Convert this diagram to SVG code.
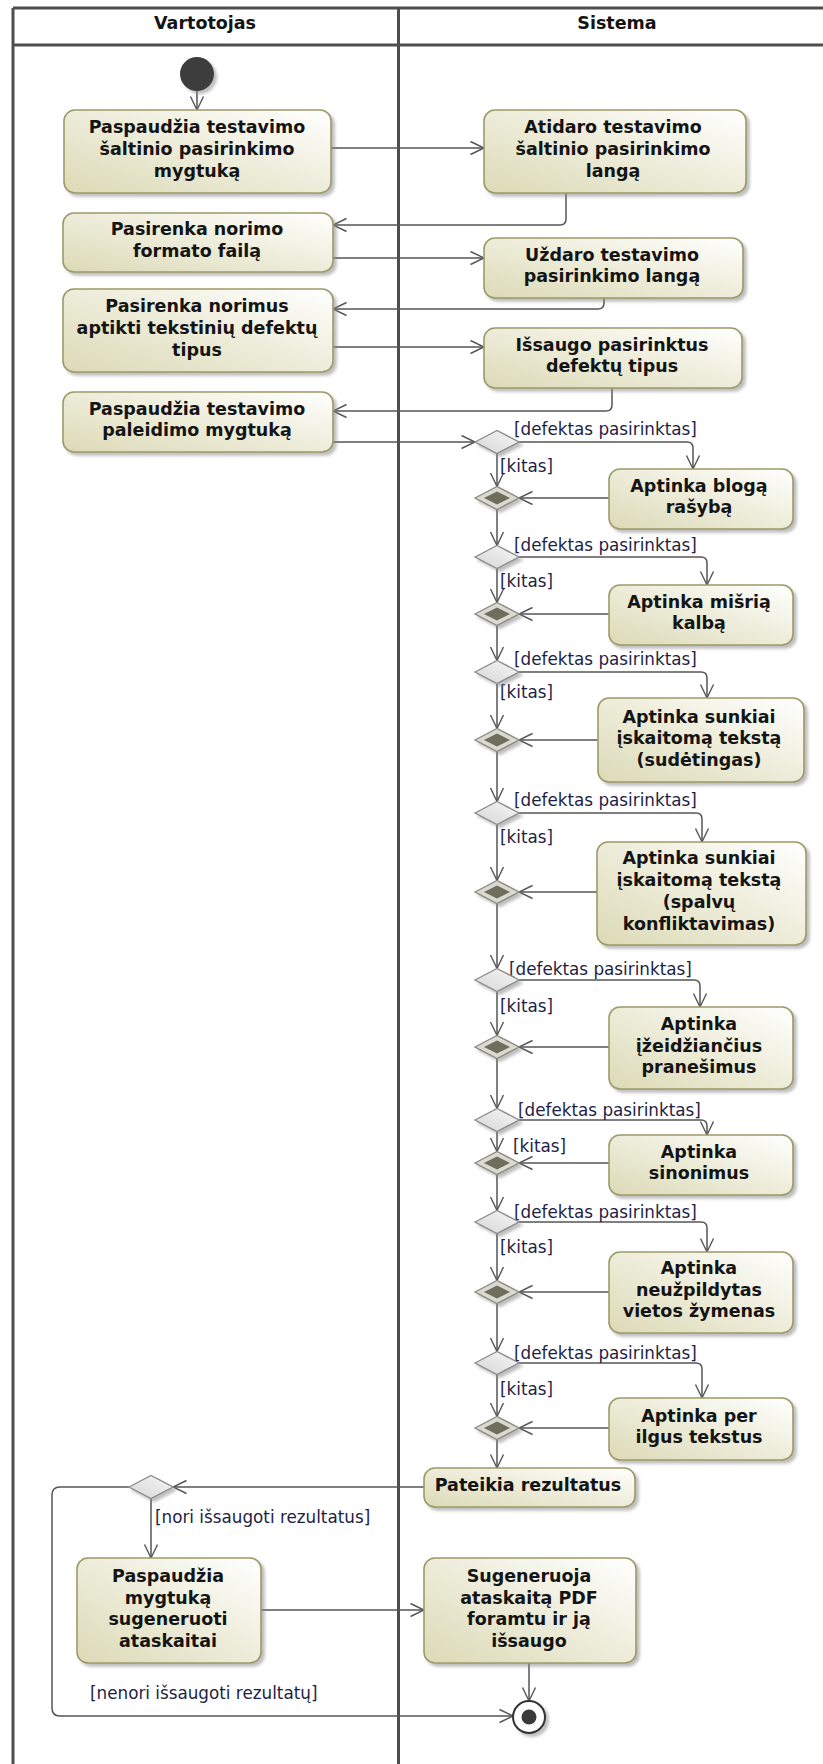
<svg xmlns="http://www.w3.org/2000/svg" width="823" height="1764" viewBox="0 0 823 1764">
  <defs>
    <linearGradient id="boxFill" x1="0" y1="1" x2="1" y2="0">
      <stop offset="0" stop-color="#dcdab6"/>
      <stop offset="0.55" stop-color="#efeedd"/>
      <stop offset="1" stop-color="#ffffff"/>
    </linearGradient>
    <linearGradient id="decFill" x1="0" y1="1" x2="1" y2="0">
      <stop offset="0" stop-color="#d6d6d6"/>
      <stop offset="1" stop-color="#f6f6f6"/>
    </linearGradient>
    <filter id="sh" x="-20%" y="-20%" width="150%" height="150%">
      <feDropShadow dx="3" dy="3" stdDeviation="1.5" flood-color="#888" flood-opacity="0.55"/>
    </filter>
    <marker id="ah" markerUnits="userSpaceOnUse" markerWidth="16" markerHeight="16" viewBox="0 0 16 16" refX="14.5" refY="8" orient="auto">
      <path d="M1,1.5 L14.5,8 L1,14.5" fill="none" stroke="#555" stroke-width="1.4"/>
    </marker>
    <style>
      .lane { stroke: #4e4e4e; stroke-width: 3; fill: none; }
      .box { fill: url(#boxFill); stroke: #9c9b68; stroke-width: 1.6; filter: url(#sh); }
      .t { font-family: "DejaVu Sans", Verdana, sans-serif; font-size: 17.5px; font-weight: bold; fill: #141414; text-anchor: middle; }
      .hd { font-family: "DejaVu Sans", Verdana, sans-serif; font-size: 17.5px; font-weight: bold; fill: #141414; text-anchor: middle; }
      .g { font-family: "DejaVu Sans", Verdana, sans-serif; font-size: 16.8px; fill: #1e1e46; }
      .c { fill: none; stroke: #555; stroke-width: 1.5; marker-end: url(#ah); }
      .dec { fill: url(#decFill); stroke: #8c8c8c; stroke-width: 1.4; filter: url(#sh); }
      .mrg { fill: #dadad2; stroke: #8a8a80; stroke-width: 1.4; filter: url(#sh); }
      .mrgIn { fill: #6d6e5c; }
    </style>
  </defs>

  <rect x="0" y="0" width="823" height="1764" fill="#ffffff"/>

  <!-- swimlane frame -->
  <g id="lanes">
    <line class="lane" x1="13" y1="8" x2="823" y2="8"/>
    <line class="lane" x1="13" y1="45" x2="823" y2="45"/>
    <line class="lane" x1="13" y1="8" x2="13" y2="1764"/>
    <line class="lane" x1="398.5" y1="8" x2="398.5" y2="1764"/>
    <text class="hd" x="205" y="29">Vartotojas</text>
    <text class="hd" x="617" y="29">Sistema</text>
  </g>

  <!-- control flows -->
  <g id="connectors">
    <path class="c" d="M197,91 V110"/>
    <path class="c" d="M331,148 H484"/>
    <path class="c" d="M566,193 V219 Q566,225 560,225 H333"/>
    <path class="c" d="M333,258 H484"/>
    <path class="c" d="M604,298 V303 Q604,309 598,309 H333"/>
    <path class="c" d="M333,347 H484"/>
    <path class="c" d="M612,388 V405 Q612,411 606,411 H333"/>
    <path class="c" d="M333,442 H475"/>

    <path class="c" d="M519,442 H687 Q693,442 693,448 V469"/>
    <path class="c" d="M497,453.5 V486.5"/>
    <path class="c" d="M609,498 H519"/>
    <path class="c" d="M497,509.5 V545.5"/>

    <path class="c" d="M519,557 H701 Q707,557 707,563 V585"/>
    <path class="c" d="M497,568.5 V602.5"/>
    <path class="c" d="M609,614 H519"/>
    <path class="c" d="M497,625.5 V660.5"/>

    <path class="c" d="M519,672 H701 Q707,672 707,678 V698"/>
    <path class="c" d="M497,683.5 V728.5"/>
    <path class="c" d="M598,740 H519"/>
    <path class="c" d="M497,751.5 V801.5"/>

    <path class="c" d="M519,813 H696 Q702,813 702,819 V842"/>
    <path class="c" d="M497,824.5 V880.5"/>
    <path class="c" d="M597,892 H519"/>
    <path class="c" d="M497,903.5 V968.5"/>

    <path class="c" d="M519,980 H694 Q700,980 700,986 V1007"/>
    <path class="c" d="M497,991.5 V1035.5"/>
    <path class="c" d="M609,1047 H519"/>
    <path class="c" d="M497,1058.5 V1108.5"/>

    <path class="c" d="M519,1120 H701 Q707,1120 707,1126 V1135"/>
    <path class="c" d="M497,1131.5 V1151.5"/>
    <path class="c" d="M609,1163 H519"/>
    <path class="c" d="M497,1174.5 V1210.5"/>

    <path class="c" d="M519,1222 H701 Q707,1222 707,1228 V1252"/>
    <path class="c" d="M497,1233.5 V1280.5"/>
    <path class="c" d="M609,1292 H519"/>
    <path class="c" d="M497,1303.5 V1351.5"/>

    <path class="c" d="M519,1363 H696 Q702,1363 702,1369 V1398"/>
    <path class="c" d="M497,1374.5 V1416.5"/>
    <path class="c" d="M609,1428 H519"/>
    <path class="c" d="M497,1439.5 V1468"/>

    <path class="c" d="M424,1487 H173"/>
    <path class="c" d="M151,1498.5 V1558"/>
    <path class="c" d="M129,1487 H60 Q52,1487 52,1495 V1708 Q52,1716 60,1716 H513"/>
    <path class="c" d="M261,1610 H424"/>
    <path class="c" d="M529,1663 V1701"/>

    <!-- guards -->
    <text class="g" x="514" y="435">[defektas pasirinktas]</text>
    <text class="g" x="500" y="472">[kitas]</text>
    <text class="g" x="514" y="551">[defektas pasirinktas]</text>
    <text class="g" x="500" y="587">[kitas]</text>
    <text class="g" x="514" y="665">[defektas pasirinktas]</text>
    <text class="g" x="500" y="698">[kitas]</text>
    <text class="g" x="514" y="806">[defektas pasirinktas]</text>
    <text class="g" x="500" y="843">[kitas]</text>
    <text class="g" x="509" y="975">[defektas pasirinktas]</text>
    <text class="g" x="500" y="1012">[kitas]</text>
    <text class="g" x="518" y="1116">[defektas pasirinktas]</text>
    <text class="g" x="513" y="1152">[kitas]</text>
    <text class="g" x="514" y="1218">[defektas pasirinktas]</text>
    <text class="g" x="500" y="1253">[kitas]</text>
    <text class="g" x="514" y="1359">[defektas pasirinktas]</text>
    <text class="g" x="500" y="1395">[kitas]</text>
    <text class="g" x="155" y="1523">[nori išsaugoti rezultatus]</text>
    <text class="g" x="90" y="1699">[nenori išsaugoti rezultatų]</text>
  </g>

  <!-- initial and final nodes -->
  <g id="start">
    <circle cx="197" cy="74" r="17" fill="#3c3c3c" filter="url(#sh)"/>
  </g>
  <g id="end">
    <circle cx="529" cy="1717" r="16" fill="#ffffff" stroke="#333" stroke-width="2" filter="url(#sh)"/>
    <circle cx="529" cy="1717" r="7.5" fill="#3a3a3a"/>
  </g>

  <!-- Vartotojas actions -->
  <g id="a1">
    <rect class="box" x="64" y="110" width="267" height="83" rx="11"/>
    <text class="t" x="197" y="133.3">Paspaudžia testavimo</text>
    <text class="t" x="197" y="155">šaltinio pasirinkimo</text>
    <text class="t" x="197" y="176.7">mygtuką</text>
  </g>
  <g id="a2">
    <rect class="box" x="63" y="213" width="270" height="59" rx="11"/>
    <text class="t" x="197" y="235.2">Pasirenka norimo</text>
    <text class="t" x="197" y="256.9">formato failą</text>
  </g>
  <g id="a3">
    <rect class="box" x="63" y="289" width="270" height="83" rx="11"/>
    <text class="t" x="197" y="312.3">Pasirenka norimus</text>
    <text class="t" x="197" y="334">aptikti tekstinių defektų</text>
    <text class="t" x="197" y="355.7">tipus</text>
  </g>
  <g id="a4">
    <rect class="box" x="63" y="392" width="270" height="60" rx="11"/>
    <text class="t" x="197" y="414.7">Paspaudžia testavimo</text>
    <text class="t" x="197" y="436.4">paleidimo mygtuką</text>
  </g>
  <g id="a5">
    <rect class="box" x="77" y="1558" width="184" height="105" rx="11"/>
    <text class="t" x="168" y="1582">Paspaudžia</text>
    <text class="t" x="168" y="1603.7">mygtuką</text>
    <text class="t" x="168" y="1625.4">sugeneruoti</text>
    <text class="t" x="168" y="1647.1">ataskaitai</text>
  </g>

  <!-- Sistema actions -->
  <g id="s1">
    <rect class="box" x="484" y="110" width="262" height="83" rx="11"/>
    <text class="t" x="613" y="133.3">Atidaro testavimo</text>
    <text class="t" x="613" y="155">šaltinio pasirinkimo</text>
    <text class="t" x="613" y="176.7">langą</text>
  </g>
  <g id="s2">
    <rect class="box" x="484" y="238" width="259" height="60" rx="11"/>
    <text class="t" x="612" y="260.7">Uždaro testavimo</text>
    <text class="t" x="612" y="282.4">pasirinkimo langą</text>
  </g>
  <g id="s3">
    <rect class="box" x="484" y="328" width="258" height="60" rx="11"/>
    <text class="t" x="612" y="350.7">Išsaugo pasirinktus</text>
    <text class="t" x="612" y="372.4">defektų tipus</text>
  </g>
  <g id="s4">
    <rect class="box" x="609" y="469" width="184" height="60" rx="11"/>
    <text class="t" x="699" y="491.7">Aptinka blogą</text>
    <text class="t" x="699" y="513.4">rašybą</text>
  </g>
  <g id="s5">
    <rect class="box" x="609" y="585" width="184" height="60" rx="11"/>
    <text class="t" x="699" y="607.7">Aptinka mišrią</text>
    <text class="t" x="699" y="629.4">kalbą</text>
  </g>
  <g id="s6">
    <rect class="box" x="598" y="698" width="206" height="84" rx="11"/>
    <text class="t" x="699" y="722.5">Aptinka sunkiai</text>
    <text class="t" x="699" y="744.3">įskaitomą tekstą</text>
    <text class="t" x="699" y="766.3">(sudėtingas)</text>
  </g>
  <g id="s7">
    <rect class="box" x="597" y="842" width="209" height="103" rx="11"/>
    <text class="t" x="699" y="864">Aptinka sunkiai</text>
    <text class="t" x="699" y="886">įskaitomą tekstą</text>
    <text class="t" x="699" y="908">(spalvų</text>
    <text class="t" x="699" y="929.5">konfliktavimas)</text>
  </g>
  <g id="s8">
    <rect class="box" x="609" y="1007" width="184" height="82" rx="11"/>
    <text class="t" x="699" y="1030">Aptinka</text>
    <text class="t" x="699" y="1051.7">įžeidžiančius</text>
    <text class="t" x="699" y="1073.4">pranešimus</text>
  </g>
  <g id="s9">
    <rect class="box" x="609" y="1135" width="184" height="60" rx="11"/>
    <text class="t" x="699" y="1157.7">Aptinka</text>
    <text class="t" x="699" y="1179.4">sinonimus</text>
  </g>
  <g id="s10">
    <rect class="box" x="609" y="1252" width="184" height="81" rx="11"/>
    <text class="t" x="699" y="1274">Aptinka</text>
    <text class="t" x="699" y="1295.7">neužpildytas</text>
    <text class="t" x="699" y="1317.4">vietos žymenas</text>
  </g>
  <g id="s11">
    <rect class="box" x="609" y="1398" width="184" height="62" rx="11"/>
    <text class="t" x="699" y="1421.7">Aptinka per</text>
    <text class="t" x="699" y="1443.4">ilgus tekstus</text>
  </g>
  <g id="s12">
    <rect class="box" x="424" y="1468" width="211" height="39" rx="11"/>
    <text class="t" x="528" y="1491">Pateikia rezultatus</text>
  </g>
  <g id="s13">
    <rect class="box" x="424" y="1558" width="212" height="105" rx="11"/>
    <text class="t" x="529" y="1582">Sugeneruoja</text>
    <text class="t" x="529" y="1603.7">ataskaitą PDF</text>
    <text class="t" x="529" y="1625.4">foramtu ir ją</text>
    <text class="t" x="529" y="1647.1">išsaugo</text>
  </g>

  <!-- decisions -->
  <g id="d1"><polygon class="dec" points="475,442 497,430.5 519,442 497,453.5"/></g>
  <g id="d2"><polygon class="dec" points="475,557 497,545.5 519,557 497,568.5"/></g>
  <g id="d3"><polygon class="dec" points="475,672 497,660.5 519,672 497,683.5"/></g>
  <g id="d4"><polygon class="dec" points="475,813 497,801.5 519,813 497,824.5"/></g>
  <g id="d5"><polygon class="dec" points="475,980 497,968.5 519,980 497,991.5"/></g>
  <g id="d6"><polygon class="dec" points="475,1120 497,1108.5 519,1120 497,1131.5"/></g>
  <g id="d7"><polygon class="dec" points="475,1222 497,1210.5 519,1222 497,1233.5"/></g>
  <g id="d8"><polygon class="dec" points="475,1363 497,1351.5 519,1363 497,1374.5"/></g>
  <g id="d9"><polygon class="dec" points="129,1487 151,1475.5 173,1487 151,1498.5"/></g>

  <!-- merges -->
  <g id="m1"><polygon class="mrg" points="475,498 497,486.5 519,498 497,509.5"/><polygon class="mrgIn" points="484,498 497,491.5 510,498 497,504.5"/></g>
  <g id="m2"><polygon class="mrg" points="475,614 497,602.5 519,614 497,625.5"/><polygon class="mrgIn" points="484,614 497,607.5 510,614 497,620.5"/></g>
  <g id="m3"><polygon class="mrg" points="475,740 497,728.5 519,740 497,751.5"/><polygon class="mrgIn" points="484,740 497,733.5 510,740 497,746.5"/></g>
  <g id="m4"><polygon class="mrg" points="475,892 497,880.5 519,892 497,903.5"/><polygon class="mrgIn" points="484,892 497,885.5 510,892 497,898.5"/></g>
  <g id="m5"><polygon class="mrg" points="475,1047 497,1035.5 519,1047 497,1058.5"/><polygon class="mrgIn" points="484,1047 497,1040.5 510,1047 497,1053.5"/></g>
  <g id="m6"><polygon class="mrg" points="475,1163 497,1151.5 519,1163 497,1174.5"/><polygon class="mrgIn" points="484,1163 497,1156.5 510,1163 497,1169.5"/></g>
  <g id="m7"><polygon class="mrg" points="475,1292 497,1280.5 519,1292 497,1303.5"/><polygon class="mrgIn" points="484,1292 497,1285.5 510,1292 497,1298.5"/></g>
  <g id="m8"><polygon class="mrg" points="475,1428 497,1416.5 519,1428 497,1439.5"/><polygon class="mrgIn" points="484,1428 497,1421.5 510,1428 497,1434.5"/></g>
</svg>
